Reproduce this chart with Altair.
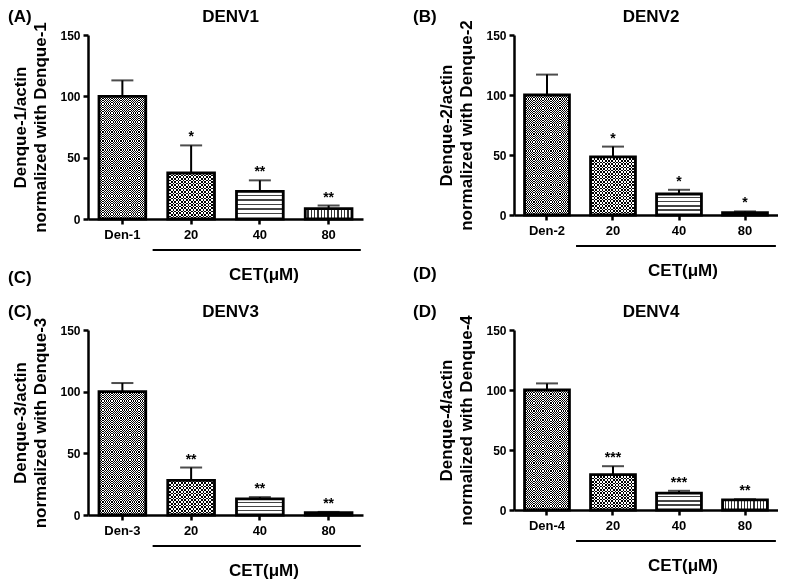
import altair as alt
import pandas as pd

panel_tags = ["(A)", "(B)", "(C)", "(D)"]
titles = ["DENV1", "DENV2", "DENV3", "DENV4"]
controls = ["Den-1", "Den-2", "Den-3", "Den-4"]
doses = ["20", "40", "80"]
ytitle_top = ["Denque-1/actin", "Denque-2/actin", "Denque-3/actin", "Denque-4/actin"]
ytitle_bottom = ["normalized with Denque-1", "normalized with Denque-2",
                 "normalized with Denque-3", "normalized with Denque-4"]
means = [[100, 37.5, 22.5, 8.5],
         [100, 48.5, 17.5, 2.0],
         [100, 28.0, 13.0, 2.0],
         [100, 29.5, 14.0, 8.5]]
upper = [[113, 60.0, 31.5, 11.0],
         [117, 57.0, 21.0, 3.0],
         [107, 38.5, 14.5, 2.5],
         [105.5, 36.5, 16.0, 9.0]]
stars = [["", "*", "**", "**"],
         ["", "*", "*", "*"],
         ["", "**", "**", "**"],
         ["", "***", "***", "**"]]
x_group = "CET(\u03bcM)"

FONT = "Liberation Sans"
widths = [275, 264, 275, 264]
heights = [184, 180, 185, 180]
YMAX = 150
P_IN, P_OUT = 0.32, 0.16


def stripes(n, vertical_dir, c1, c2, frac=0.5):
    """hard-stop linear gradient: n periods, c1 for frac of each period"""
    stops = []
    for i in range(n):
        a = i / n
        b = (i + frac) / n
        c = (i + 1) / n
        stops += [alt.GradientStop(offset=a, color=c1), alt.GradientStop(offset=b, color=c1),
                  alt.GradientStop(offset=b, color=c2), alt.GradientStop(offset=c, color=c2)]
    if vertical_dir:  # colour changes going down -> horizontal lines
        return alt.LinearGradient(gradient="linear", stops=stops, x1=0, x2=0, y1=0, y2=1)
    return alt.LinearGradient(gradient="linear", stops=stops, x1=0, x2=1, y1=0, y2=0)


def panel(k):
    W, H = widths[k], heights[k]
    cats = [controls[k]] + doses
    df = pd.DataFrame({"cat": cats, "val": means[k], "hi": upper[k], "sig": stars[k]})
    step = W / (len(cats) - P_IN + 2 * P_OUT)
    bar_w = step * (1 - P_IN)

    ax_y = alt.Axis(values=[0, 50, 100, 150], title=[ytitle_top[k], ytitle_bottom[k]])
    ax_x = alt.Axis(title=None)
    xs = alt.Scale(paddingInner=P_IN, paddingOuter=P_OUT)
    ys = alt.Scale(domain=[0, YMAX])

    def X():
        return alt.X("cat:N", sort=cats, scale=xs, axis=ax_x)

    def Y(f):
        return alt.Y(f + ":Q", scale=ys, axis=ax_y)

    base = alt.Chart(df)
    layers = []
    for i, c in enumerate(cats):
        sub = base.transform_filter(alt.datum.cat == c)
        h_px = means[k][i] / YMAX * H
        if i in (0, 1):
            sq = 1.8 if i == 0 else 3.3
            nx = max(1, round(bar_w / sq))
            ny = max(1, round(h_px / sq))
            layers.append(sub.mark_bar(fill=stripes(nx, False, "#000000", "#ffffff"),
                                       strokeWidth=0).encode(x=X(), y=Y("val")))
            layers.append(sub.mark_bar(fill=stripes(ny, True, "#ffffff", "#000000"),
                                       strokeWidth=0, blend="difference").encode(x=X(), y=Y("val")))
        elif i == 2:
            ny = max(1, round(h_px / 4.3))
            layers.append(sub.mark_bar(fill=stripes(ny, True, "#ffffff", "#444444", 0.68),
                                       strokeWidth=0).encode(x=X(), y=Y("val")))
        else:
            nx = max(1, round(bar_w / 3.3))
            layers.append(sub.mark_bar(fill=stripes(nx, False, "#ffffff", "#333333", 0.62),
                                       strokeWidth=0).encode(x=X(), y=Y("val")))
    layers.append(base.mark_bar(fillOpacity=0, stroke="black", strokeWidth=2.8)
                  .encode(x=X(), y=Y("val")))
    layers.append(base.mark_rule(color="black", strokeWidth=2)
                  .encode(x=X(), y=Y("val"), y2=alt.Y2("hi")))
    layers.append(base.mark_tick(color="black", thickness=2, size=22)
                  .encode(x=X(), y=Y("hi")))
    layers.append(base.mark_text(font=FONT, fontWeight="bold", fontSize=14, dy=-4,
                                 baseline="alphabetic", color="black")
                  .encode(x=X(), y=Y("hi"), text="sig:N"))
    lab = alt.Chart(pd.DataFrame({"t": [x_group]}))
    layers.append(lab.mark_rule(color="black", strokeWidth=2.2).encode(
        x=alt.value(0.235 * W), x2=alt.value(0.992 * W), y=alt.value(H + 31)))
    layers.append(lab.mark_text(font=FONT, fontWeight="bold", fontSize=17, baseline="middle",
                                align="center", color="black").encode(
        x=alt.value(0.64 * W), y=alt.value(H + 56), text="t:N"))
    # panel title
    ttl = alt.Chart(pd.DataFrame({"t": [titles[k]]}))
    layers.append(ttl.mark_text(font=FONT, fontWeight="bold", fontSize=17, baseline="middle",
                                align="center", color="black").encode(
        x=alt.value(W / 2 + 5), y=alt.value(-18), text="t:N"))
    tag_x = -80 if k % 2 == 0 else -101
    tags = [panel_tags[k]]
    tag_y = [-18]
    if k < 2:
        tags.append(panel_tags[k + 2])
        tag_y.append(H + 59)
    tg = alt.Chart(pd.DataFrame({"t": tags, "y": tag_y}))
    for t, yy in zip(tags, tag_y):
        layers.append(tg.transform_filter(alt.datum.t == t).mark_text(
            font=FONT, fontWeight="bold", fontSize=17, align="left", baseline="middle",
            color="black").encode(x=alt.value(tag_x), y=alt.value(yy), text="t:N"))

    return alt.layer(*layers).properties(width=W, height=H)


chart = alt.concat(*[panel(k) for k in range(4)], columns=2,
                   spacing={"row": 111, "column": 151}, bounds="flush").properties(
    padding=0
).configure_view(stroke=None).configure_axis(
    grid=False, domainColor="black", domainWidth=2.5, tickColor="black", tickWidth=2.5,
    tickSize=5, labelFont=FONT, labelFontWeight="bold", labelFontSize=12, labelColor="black",
    labelPadding=3, titleFont=FONT, titleFontWeight="bold", titleFontSize=17,
    titleColor="black", titlePadding=10, titleLineHeight=20
).configure_axisX(labelFontSize=13, labelAngle=0, labelPadding=4)

chart.save("out.html", embed_options={"renderer": "svg", "actions": False})
